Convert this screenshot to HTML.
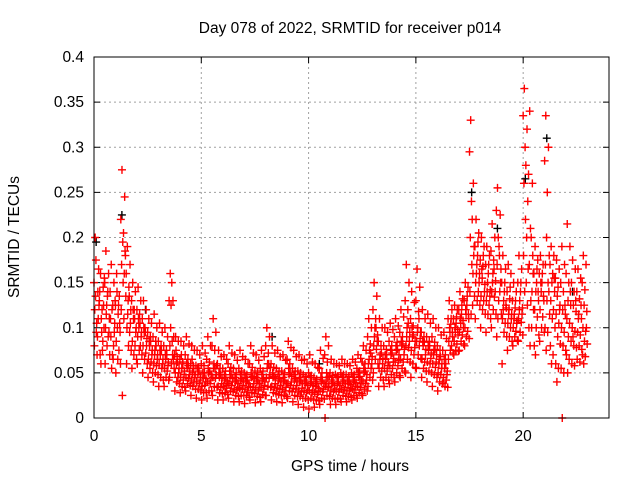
<!DOCTYPE html>
<html><head><meta charset="utf-8"><style>
body{margin:0;background:#fff}
svg{display:block;font-family:"Liberation Sans",sans-serif}
</style></head><body>
<svg id="chart" width="640" height="480" viewBox="0 0 640 480" xmlns="http://www.w3.org/2000/svg">
<rect width="640" height="480" fill="#fff"/>
<text x="350" y="33" text-anchor="middle" font-size="15.5">Day 078 of 2022, SRMTID for receiver p014</text>
<text transform="translate(19,237) rotate(-90)" text-anchor="middle" font-size="15.5">SRMTID / TECUs</text>
<text x="350" y="471" text-anchor="middle" font-size="15.5">GPS time / hours</text>
<g id="grid"></g>
<g id="ticks"></g>
<g id="points"></g>
<rect x="94" y="57" width="515" height="361" fill="none" stroke="#000" stroke-width="1"/>
</svg>
<script>
const xTicks=[0,5,10,15,20];
const yTicks=[0,0.05,0.1,0.15,0.2,0.25,0.3,0.35,0.4];
const yTickLabels=["0","0.05","0.1","0.15","0.2","0.25","0.3","0.35","0.4"];
const hours=[0,0.25,0.5,0.75,1,1.25,1.5,1.75,2,2.25,2.5,2.75,3,3.25,3.5,3.75,4,4.25,4.5,4.75,5,5.25,5.5,5.75,6,6.25,6.5,6.75,7,7.25,7.5,7.75,8,8.25,8.5,8.75,9,9.25,9.5,9.75,10,10.25,10.5,10.75,11,11.25,11.5,11.75,12,12.25,12.5,12.75,13,13.25,13.5,13.75,14,14.25,14.5,14.75,15,15.25,15.5,15.75,16,16.25,16.5,16.75,17,17.25,17.5,17.75,18,18.25,18.5,18.75,19,19.25,19.5,19.75,20,20.25,20.5,20.75,21,21.25,21.5,21.75,22,22.25,22.5,22.75];
// SRMTID values in milli-TECU, samples per 0.25 h bin (first pass)
const srmtidMilli=[
[200,150,175,120,95,80,135],[160,130,110,70,95,140,60],[185,150,125,100,80,60,115],[170,140,120,90,70,110,55],
[160,125,100,85,65,50,140],[275,220,195,170,150,120,25],[190,160,130,100,80,60,115],[150,130,110,85,70,55,120],
[145,120,100,90,75,60,110],[130,110,95,80,65,50,100],[110,95,80,65,55,45,85],[115,90,75,60,50,40,70],
[105,85,70,60,45,35,75],[100,80,65,55,45,35,70],[160,130,125,80,60,45,100],[90,70,60,50,40,30,75],
[85,65,55,45,35,28,70],[90,70,55,45,38,30,60],[80,60,50,42,35,25,65],[75,58,48,40,32,22,55],
[80,60,45,35,28,20,50],[90,65,50,40,30,22,55],[110,80,60,45,35,25,55],[75,60,45,35,28,20,50],
[70,55,42,35,28,20,48],[80,60,45,38,30,22,52],[70,55,40,32,25,18,45],[75,55,42,33,25,18,48],
[65,50,40,32,25,16,45],[80,60,45,35,28,20,50],[70,52,40,32,24,17,45],[75,55,42,34,26,18,48],
[100,80,60,45,35,25,55],[80,60,45,35,28,20,50],[75,55,42,33,26,18,48],[70,52,40,32,25,17,45],
[85,65,48,38,30,22,55],[75,55,42,33,25,18,48],[70,52,40,30,24,15,45],[65,48,38,30,22,12,42],
[70,50,38,30,22,10,45],[60,45,35,28,20,12,40],[75,55,40,30,22,15,45],[90,70,50,35,25,0,40],
[65,50,38,30,22,15,42],[60,48,38,30,22,15,45],[65,50,40,32,25,18,45],[60,48,38,30,24,18,42],
[65,50,40,32,25,20,45],[70,55,45,35,28,22,50],[80,62,50,40,32,25,55],[110,90,75,60,45,35,65],
[150,120,100,80,65,50,90],[110,85,70,55,45,35,65],[100,80,65,55,45,35,70],[105,85,70,58,48,38,75],
[110,90,75,62,50,40,80],[120,95,80,65,55,45,85],[170,130,100,80,65,50,90],[140,110,90,75,60,45,100],
[165,130,100,85,70,55,95],[120,95,80,65,55,45,85],[115,90,75,62,52,40,80],[110,90,75,60,48,35,70],
[100,80,65,50,40,30,60],[95,75,55,45,35,40,65],[130,110,95,85,75,65,100],[125,110,95,85,75,70,100],
[140,120,105,95,85,75,110],[150,130,115,100,90,80,120],[330,295,240,200,170,140,115],[220,190,170,150,130,110,160],
[200,175,155,135,120,100,165],[190,170,150,130,115,95,140],[215,185,160,140,120,100,150],[255,230,200,170,130,90,110],
[180,150,130,110,95,60,120],[170,140,120,105,90,75,115],[150,130,115,100,90,80,110],[180,150,130,110,95,85,120],
[365,335,300,260,220,180,140],[340,270,210,170,130,100,80],[190,160,140,120,100,80,70],[180,160,140,120,100,85,150],
[335,285,200,170,130,100,75],[190,170,150,130,110,80,60],[175,155,135,115,90,60,40],[190,150,120,100,80,55,0],
[215,160,130,110,90,70,50],[175,150,125,100,80,60,90],[165,140,115,95,80,65,110],[180,150,125,100,85,70,60]];
// second pass of samples, offset by half a bin
const srmtidMilliB=[
[140,105,165,90,125,70,110],[145,120,100,85,155,75,125],[160,135,110,90,70,140,95],[150,125,105,80,130,65,95],
[135,115,95,75,60,125,105],[245,205,180,160,135,110,185],[170,145,120,95,75,135,105],[140,120,100,80,65,110,95],
[130,115,95,80,70,105,90],[120,100,88,72,60,95,80],[105,90,75,62,50,85,70],[100,85,70,58,48,80,65],
[95,80,65,55,42,75,60],[90,75,62,52,42,70,58],[130,150,90,70,55,85,65],[85,68,55,45,38,62,50],
[80,62,52,42,34,60,48],[82,65,52,44,36,58,48],[75,58,48,40,32,55,45],[70,55,45,38,30,52,42],
[72,58,44,36,28,50,40],[80,62,48,38,30,52,42],[95,75,58,44,34,55,48],[68,55,44,34,27,48,38],
[65,52,40,33,26,45,36],[72,56,44,36,29,48,40],[64,50,38,31,24,42,34],[68,52,40,32,25,44,36],
[60,48,38,30,23,42,34],[72,56,44,34,27,46,38],[64,50,38,30,23,42,34],[68,52,40,32,25,44,36],
[90,72,56,44,34,60,48],[72,56,44,34,27,46,38],[68,52,40,32,25,44,36],[64,50,38,30,24,42,34],
[78,60,46,36,29,50,40],[68,52,40,32,24,44,36],[64,50,38,29,22,42,33],[60,46,36,28,20,40,31],
[62,47,36,28,20,40,30],[56,43,33,26,19,38,29],[66,50,38,29,21,42,32],[80,62,46,34,24,45,35],
[60,47,36,29,21,40,32],[58,46,36,29,21,40,32],[60,48,38,31,24,42,34],[58,46,37,30,23,40,33],
[62,48,39,31,25,42,35],[66,52,42,34,27,46,38],[75,60,48,38,30,52,42],[100,82,68,55,42,72,60],
[135,110,92,76,60,100,85],[100,80,66,52,42,72,60],[95,76,62,52,42,70,58],[98,80,66,55,45,72,62],
[102,84,70,58,47,76,64],[112,90,76,62,52,82,70],[150,120,95,78,62,105,85],[128,102,85,70,56,92,78],
[145,118,95,80,66,110,88],[110,90,76,62,52,84,70],[105,85,72,60,50,80,66],[100,84,70,56,45,76,62],
[92,75,60,48,38,68,55],[88,70,52,42,34,60,48],[120,104,90,80,72,110,95],[120,105,92,82,74,112,98],
[132,115,100,92,82,125,108],[145,125,110,96,88,135,115],[260,220,190,160,135,125,180],[205,180,160,140,125,195,150],
[190,168,148,130,115,180,140],[180,160,142,125,110,170,135],[200,175,152,134,115,165,140],[225,190,165,140,115,180,150],
[165,140,122,105,90,150,125],[160,132,115,100,85,145,110],[140,122,108,96,86,130,105],[165,140,122,106,92,150,115],
[320,280,240,200,165,150,125],[260,200,160,140,120,100,180],[175,150,130,112,92,165,140],[170,150,130,112,95,160,135],
[300,250,180,150,115,95,140],[180,160,140,120,100,70,155],[165,145,125,105,82,55,120],[170,140,115,95,75,50,125],
[190,150,125,105,85,65,140],[165,140,118,96,78,58,130],[155,132,110,92,76,62,125],[170,142,118,96,82,68,100]];
const blackHours=[0.1,1.3,2.4,8.3,10.5,17.6,18.8,20.1,21.1,22.3];
const blackMilli=[195,225,120,90,60,250,210,265,310,140];

const X0=94,X1=609,Y0=418,Y1=57,XMAX=24,YMAX=0.4;
const xs=h=>X0+(X1-X0)*h/XMAX;
const ys=v=>Y0-(Y0-Y1)*v/YMAX;
const NS="http://www.w3.org/2000/svg";
const grid=document.getElementById('grid'),ticks=document.getElementById('ticks'),pts=document.getElementById('points');
function mk(tag,attrs,parent){const e=document.createElementNS(NS,tag);for(const k in attrs)e.setAttribute(k,attrs[k]);parent.appendChild(e);return e;}
xTicks.forEach(t=>{
  const x=xs(t);
  if(t>0){const g=mk('line',{x1:x,x2:x,y1:Y1,y2:Y0,stroke:'#a0a0a0','stroke-dasharray':'2,3'},grid);
  
  }
  mk('line',{x1:x,x2:x,y1:Y0,y2:Y0-6,stroke:'#000'},ticks);
  mk('line',{x1:x,x2:x,y1:Y1,y2:Y1+6,stroke:'#000'},ticks);
  const l=mk('text',{x:x,y:Y0+23,'text-anchor':'middle','font-size':15.5},ticks);
  l.textContent=String(t);
  
  
});
yTicks.forEach((t,i)=>{
  const y=ys(t);
  if(t>0&&t<YMAX){const g=mk('line',{x1:X0,x2:X1,y1:y,y2:y,stroke:'#a0a0a0','stroke-dasharray':'2,3'},grid);
  
  }
  mk('line',{x1:X0,x2:X0+6,y1:y,y2:y,stroke:'#000'},ticks);
  mk('line',{x1:X1,x2:X1-6,y1:y,y2:y,stroke:'#000'},ticks);
  const l=mk('text',{x:X0-10,y:y+5,'text-anchor':'end','font-size':15.5},ticks);
  l.textContent=yTickLabels[i];
  
  
});
function plus(h,v,color){
  const x=xs(h),y=ys(v);
  return mk('path',{d:`M${x-4},${y}h8M${x},${y-4}v8`,stroke:color,'stroke-width':1.4,fill:'none'},pts);
}
blackHours.forEach((h,i)=>{
  const p=plus(h,blackMilli[i]/1000,'#000');
  
  
});
const order=[3,0,5,2,6,1,4];
hours.forEach((h,i)=>{
  srmtidMilli[i].forEach((v,j)=>{
    const p=plus(h+order[j]*0.018,v/1000,'#ff0000');
    
    
  });
  srmtidMilliB[i].forEach((v,j)=>{
    const p=plus(h+0.125+order[j]*0.018,v/1000,'#ff0000');
    
    
  });
});
</script>
</body></html>
